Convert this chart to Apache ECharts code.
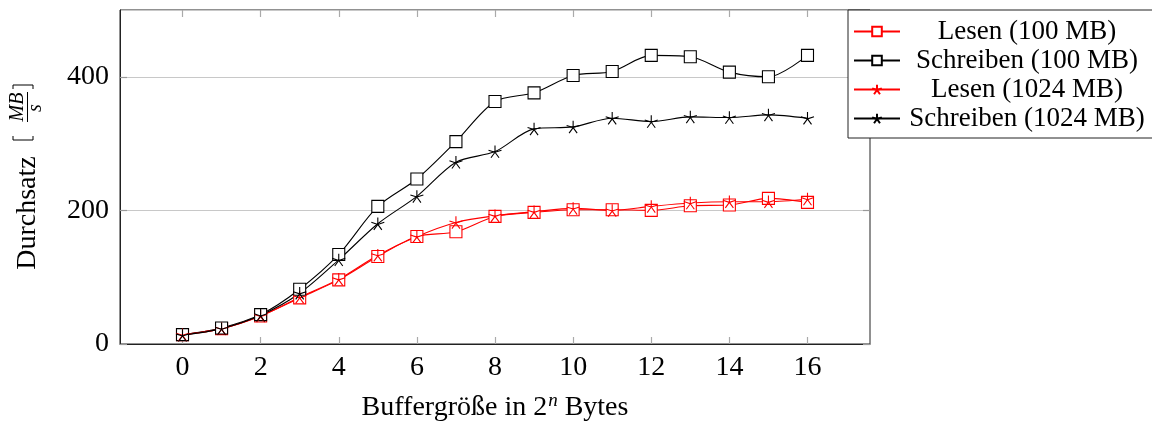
<!DOCTYPE html>
<html>
<head>
<meta charset="utf-8">
<script src="https://cdn.jsdelivr.net/npm/echarts@6/dist/echarts.min.js"></script>
<style>
  html, body { margin: 0; padding: 0; background: #fff; }
  #chart { width: 1152px; height: 421px; }
</style>
</head>
<body>
<div id="chart"></div>
<script>
// Buffer size exponent n (buffer = 2^n bytes)
const bufferExp = [0, 1, 2, 3, 4, 5, 6, 7, 8, 9, 10, 11, 12, 13, 14, 15, 16];
const xTicks = [0, 2, 4, 6, 8, 10, 12, 14, 16];

// Throughput in MB/s
const lesen100      = [14, 23, 42, 69, 96, 131, 161, 168, 191, 197, 201, 201, 200, 207, 208, 218, 212];
const schreiben100  = [14, 24, 44, 82, 134, 206, 247, 303, 363, 376, 402, 408, 432, 430, 407, 400, 432];
const lesen1024     = [14, 23, 42, 70, 97, 133, 161, 182, 192, 198, 203, 200, 206, 211, 213, 213, 217];
const schreiben1024 = [13, 23, 43, 76, 126, 180, 221, 272, 288, 322, 325, 338, 333, 340, 339, 343, 338];

const seriesNames = ['Lesen (100 MB)', 'Schreiben (100 MB)', 'Lesen (1024 MB)', 'Schreiben (1024 MB)'];

const FONT = '"Liberation Serif", "DejaVu Serif", serif';
const RED = '#ff0000';
const BLACK = '#000000';
// five-spoke asterisk marker
const STAR = 'path://M0,-10L0,0M9.51,-3.09L0,0M5.88,8.09L0,0M-5.88,8.09L0,0M-9.51,-3.09L0,0';

function pairs(ys) { return bufferExp.map((x, i) => [x, ys[i]]); }

function makeSeries(name, ys, color, marker) {
  const isRect = marker === 'rect';
  return {
    name: name,
    type: 'line',
    data: pairs(ys),
    smooth: 0.3,
    symbol: isRect ? 'rect' : STAR,
    symbolSize: isRect ? 12 : 13,
    symbolKeepAspect: true,
    showAllSymbol: true,
    lineStyle: { color: color, width: 1.1 },
    itemStyle: { color: isRect ? '#ffffff' : color, borderColor: color, borderWidth: 1.1 },
    emphasis: { disabled: true },
    animation: false
  };
}

const textCentered = { align: 'center', verticalAlign: 'middle', textAlign: 'center', textVerticalAlign: 'middle', fill: '#000' };

const chart = echarts.init(document.getElementById('chart'), null, { renderer: 'canvas' });

const option = {
  animation: false,
  backgroundColor: '#ffffff',
  textStyle: { fontFamily: FONT, color: '#000' },
  grid: {
    left: 120, right: 282, top: 10, bottom: 77,
    show: true, borderColor: '#222', borderWidth: 1,
    containLabel: false, outerBoundsMode: 'none'
  },
  legend: {
    orient: 'vertical',
    left: 848, top: 10,
    padding: [8, 5, 6, 5],
    itemGap: 2,
    itemWidth: 46,
    itemHeight: 12,
    borderColor: '#222',
    borderWidth: 1,
    backgroundColor: '#ffffff',
    selectedMode: false,
    data: seriesNames,
    formatter: function (name) { return '{t|' + name + '}'; },
    textStyle: {
      fontFamily: FONT,
      fontSize: 27,
      color: '#000',
      rich: {
        t: { fontFamily: FONT, fontSize: 27, width: 244, align: 'center', lineHeight: 27 }
      }
    }
  },
  xAxis: [
    {
      type: 'value',
      min: -1.6, max: 17.6,
      position: 'bottom',
      name: '{a|Buffergröße in 2}{s|n}{a| Bytes}',
      nameLocation: 'middle',
      nameGap: 47,
      nameTextStyle: {
        rich: {
          a: { fontFamily: FONT, fontSize: 28, color: '#000' },
          s: { fontFamily: FONT, fontSize: 19, fontStyle: 'italic', color: '#000', padding: [0, 0, 14, 1] }
        }
      },
      axisLine: { show: true, onZero: false, lineStyle: { color: '#222', width: 1 } },
      axisTick: { show: true, inside: true, length: 7, customValues: xTicks, lineStyle: { color: '#aaa', width: 1.2 } },
      axisLabel: { show: true, customValues: xTicks, margin: 10, fontFamily: FONT, fontSize: 28, color: '#000' },
      splitLine: { show: false }
    },
    {
      type: 'value',
      min: -1.6, max: 17.6,
      position: 'top',
      axisLine: { show: false, onZero: false },
      axisTick: { show: true, inside: true, length: 7, customValues: xTicks, lineStyle: { color: '#aaa', width: 1.2 } },
      axisLabel: { show: false },
      splitLine: { show: false }
    }
  ],
  yAxis: [
    {
      type: 'value',
      min: 0, max: 500, interval: 200,
      position: 'left',
      axisLine: { show: true, onZero: false, lineStyle: { color: '#222', width: 1 } },
      axisTick: { show: true, inside: true, length: 7, lineStyle: { color: '#999', width: 1.2 } },
      axisLabel: { show: true, showMaxLabel: false, margin: 11, fontFamily: FONT, fontSize: 28, color: '#000' },
      splitLine: { show: true, lineStyle: { color: '#c8c8c8', width: 1 } }
    },
    {
      type: 'value',
      min: 0, max: 500, interval: 200,
      position: 'right',
      axisLine: { show: false, onZero: false },
      axisTick: { show: true, inside: true, length: 7, lineStyle: { color: '#999', width: 1.2 } },
      axisLabel: { show: false },
      splitLine: { show: false }
    }
  ],
  series: [
    makeSeries(seriesNames[0], lesen100, RED, 'rect'),
    makeSeries(seriesNames[1], schreiben100, BLACK, 'rect'),
    makeSeries(seriesNames[2], lesen1024, RED, 'star'),
    makeSeries(seriesNames[3], schreiben1024, BLACK, 'star')
  ],
  // rotated y-axis title: Durchsatz [ MB / s ]
  graphic: [
    { type: 'text', x: 28, y: 213, rotation: Math.PI / 2, silent: true,
      style: Object.assign({ text: 'Durchsatz', font: '28px ' + FONT }, textCentered) },
    // opening bracket
    { type: 'polyline', silent: true,
      shape: { points: [[13, 136], [13, 140], [33, 140], [33, 136]] },
      style: { stroke: '#000', lineWidth: 1, fill: 'none' } },
    { type: 'text', x: 18, y: 107, rotation: Math.PI / 2, silent: true,
      style: Object.assign({ text: 'MB', font: 'italic 20px ' + FONT }, textCentered) },
    { type: 'line', silent: true,
      shape: { x1: 27.5, y1: 92, x2: 27.5, y2: 122 },
      style: { stroke: '#000', lineWidth: 1 } },
    { type: 'text', x: 36, y: 108, rotation: Math.PI / 2, silent: true,
      style: Object.assign({ text: 's', font: 'italic 20px ' + FONT }, textCentered) },
    // closing bracket
    { type: 'polyline', silent: true,
      shape: { points: [[13, 89], [13, 85], [33, 85], [33, 89]] },
      style: { stroke: '#000', lineWidth: 1, fill: 'none' } }
  ]
};

chart.setOption(option);
</script>
</body>
</html>
